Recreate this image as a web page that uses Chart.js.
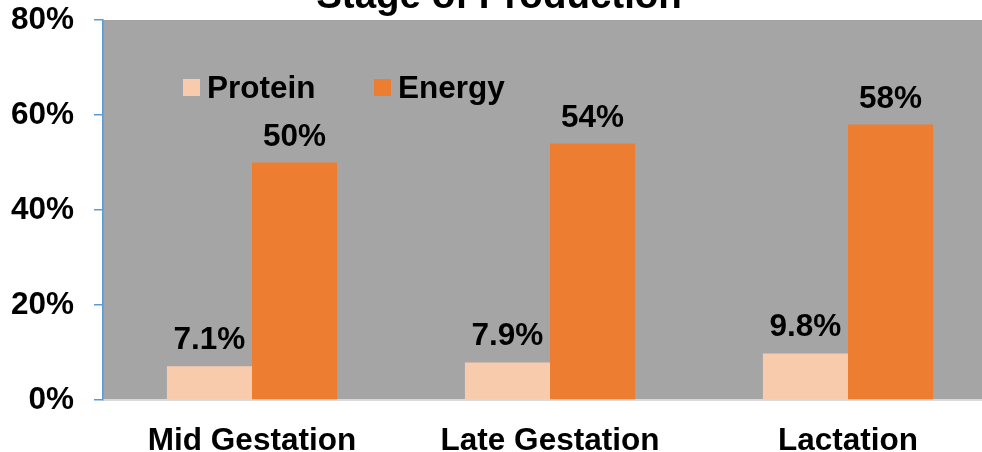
<!DOCTYPE html>
<html>
<head>
<meta charset="utf-8">
<script src="https://cdn.jsdelivr.net/npm/chart.js@4/dist/chart.umd.min.js"></script>
<style>
  html, body { margin: 0; padding: 0; background: #fff; overflow: hidden; }
  #wrap { width: 1000px; height: 452px; }
</style>
</head>
<body>
<div id="wrap"><canvas id="grafica"></canvas></div>
<script>
const stages = ['Mid Gestation', 'Late Gestation', 'Lactation'];
const protein = [7.1, 7.9, 9.8];
const energy = [50, 54, 58];
const yTicks = [0, 20, 40, 60, 80];

const fuente = '"Liberation Sans", Arial, sans-serif';

function fmt(v) {
    return (v % 1 === 0) ? v + '%' : v.toFixed(1) + '%';
}

// fondo gris del area de trazado
const fondoPlugin = {
    id: 'fondo',
    beforeDraw(chart) {
        const a = chart.chartArea;
        const ctx = chart.ctx;
        ctx.save();
        ctx.fillStyle = '#A5A5A5';
        ctx.fillRect(a.left, a.top, a.right - a.left, a.bottom - a.top);
        ctx.restore();
    }
};

// titulo, etiquetas y leyenda
const textoPlugin = {
    id: 'texto',
    afterDatasetsDraw(chart) {
        const ctx = chart.ctx;
        ctx.save();
        ctx.fillStyle = '#000';
        ctx.font = 'bold 31.5px ' + fuente;
        ctx.textAlign = 'center';
        ctx.textBaseline = 'alphabetic';
        chart.data.datasets.forEach((ds, i) => {
            chart.getDatasetMeta(i).data.forEach((bar, j) => {
                ctx.fillText(fmt(ds.data[j]), bar.x, bar.y - 17);
            });
        });

        ctx.font = 'bold 38.5px ' + fuente;
        ctx.fillText('Stage of Production', 499, 8);

        // leyenda
        ctx.font = 'bold 31.5px ' + fuente;
        ctx.textAlign = 'left';
        ctx.textBaseline = 'middle';
        const posX = [183, 374];
        chart.data.datasets.forEach((ds, i) => {
            ctx.fillStyle = ds.backgroundColor;
            ctx.fillRect(posX[i], 79, 17, 17);
            ctx.fillStyle = '#000';
            ctx.fillText(ds.label, posX[i] + 24, 89);
        });
        ctx.restore();
    }
};

new Chart(document.getElementById('grafica'), {
    type: 'bar',
    data: {
        labels: stages,
        datasets: [
            { label: 'Protein', data: protein, backgroundColor: '#F8CBAD' },
            { label: 'Energy', data: energy, backgroundColor: '#ED7D31' }
        ]
    },
    options: {
        responsive: true,
        maintainAspectRatio: false,
        animation: false,
        layout: { padding: { top: 20, right: 3, left: 0, bottom: 0 } },
        datasets: { bar: { barPercentage: 1, categoryPercentage: 0.571 } },
        plugins: {
            legend: { display: false },
            title: { display: false },
            tooltip: { enabled: false }
        },
        scales: {
            x: {
                grid: { display: false },
                border: { color: '#D9D9D9', width: 2 },
                ticks: {
                    color: '#000',
                    font: { family: fuente, size: 31.5, weight: 'bold' },
                    padding: 14,
                    maxRotation: 0
                },
                afterFit(s) { s.height = 52; s.paddingLeft = 0; s.paddingRight = 0; }
            },
            y: {
                min: 0,
                max: 80,
                afterBuildTicks(s) { s.ticks = yTicks.map(v => ({ value: v })); },
                grid: { drawOnChartArea: false, drawTicks: true, tickLength: 9, color: '#5B9BD5', lineWidth: 1.5 },
                border: { color: '#5B9BD5', width: 1.5 },
                ticks: {
                    color: '#000',
                    font: { family: fuente, size: 31.5, weight: 'bold' },
                    padding: 20,
                    callback: v => v + '%'
                },
                afterFit(s) { s.width = 103; s.paddingTop = 0; s.paddingBottom = 0; }
            }
        }
    },
    plugins: [fondoPlugin, textoPlugin]
});
</script>
</body>
</html>
